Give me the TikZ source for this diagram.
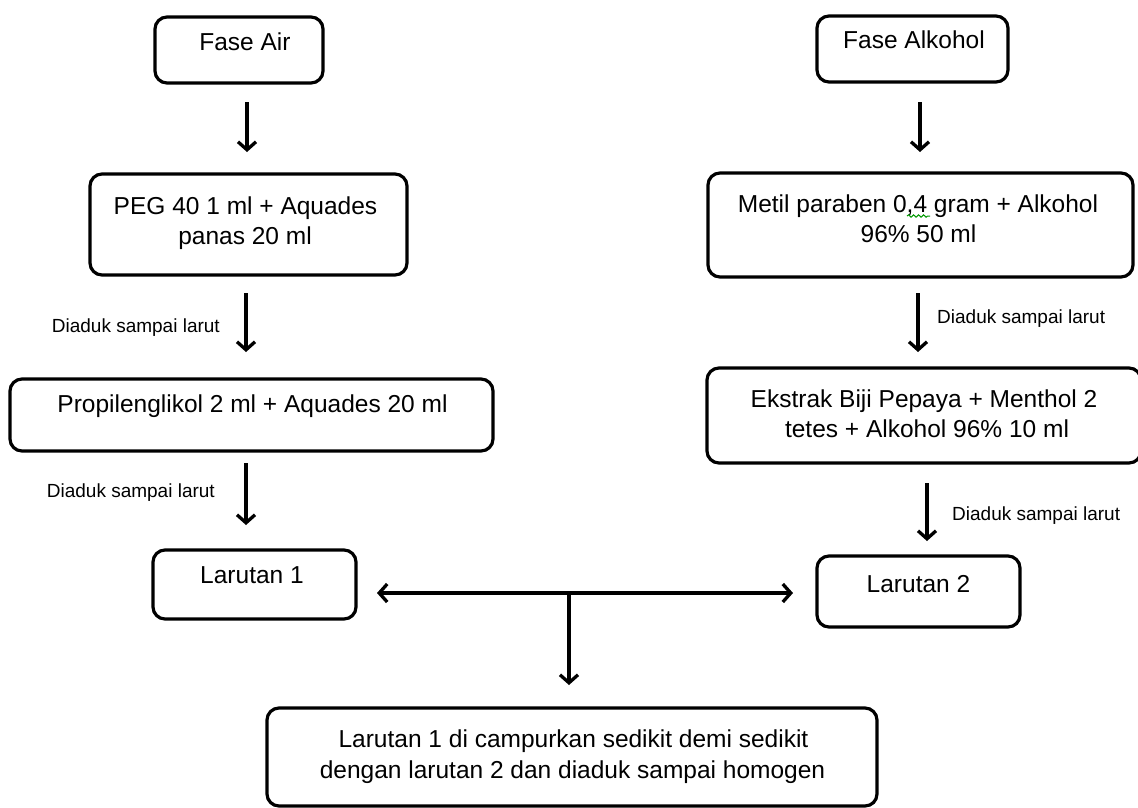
\documentclass[tikz,border=0pt]{standalone}
\usepackage{fontspec}
\setmainfont{Liberation Sans}
\usetikzlibrary{arrows.meta,decorations.pathmorphing}
\begin{document}
\begin{tikzpicture}[x=1pt,y=-1pt,
  box/.style={draw=black, line width=3.2pt, rounded corners=12pt, fill=white, inner sep=0pt},
  txt/.style={font=\fontsize{24.5}{30}\selectfont, inner sep=0pt, anchor=base},
  lbl/.style={font=\fontsize{19}{22}\selectfont, inner sep=0pt},
  tipstyle/.style={},
  arr/.style={line width=3.3pt, -{Straight Barb[length=8pt,width=18pt,line width=3.3pt]}},
  dblarr/.style={line width=3.3pt, {Straight Barb[length=8pt,width=18pt,line width=3.3pt]}-{Straight Barb[length=8pt,width=18pt,line width=3.3pt]}},
]
\useasboundingbox (0,0) rectangle (1138,807);

% boxes
\node[box, minimum width=168pt, minimum height=66pt] (fa) at (239,50) {};
\node[box, minimum width=191pt, minimum height=66pt] (fal) at (912.5,49) {};
\node[box, minimum width=317pt, minimum height=101pt] (peg) at (248.5,224.5) {};
\node[box, minimum width=425pt, minimum height=104pt] (metil) at (920.5,225) {};
\node[box, minimum width=483pt, minimum height=72pt] (prop) at (251.5,415) {};
\node[box, minimum width=434pt, minimum height=95pt] (eks) at (924,415.5) {};
\node[box, minimum width=203pt, minimum height=69pt] (lar1) at (254.5,584.5) {};
\node[box, minimum width=203pt, minimum height=71pt] (lar2) at (918.5,591.5) {};
\node[box, minimum width=610pt, minimum height=98pt] (final) at (572,757) {};

% texts
\node[txt] (fa-t) at (245,50) {Fase Air};
\node[txt] (fal-t) at (914,48) {Fase Alkohol};
\node[txt] (peg-t1) at (245.5,214) {PEG 40 1 ml + Aquades};
\node[txt] (peg-t2) at (245,244) {panas 20 ml};
\node[txt] (metil-t1) at (918,212) {Metil paraben 0,4 gram + Alkohol};
\node[txt] (metil-t2) at (918.5,242) {96\% 50 ml};
\node[txt] (prop-t) at (252.5,412) {Propilenglikol 2 ml + Aquades 20 ml};
\node[txt] (eks-t1) at (924,407) {Ekstrak Biji Pepaya + Menthol 2};
\node[txt] (eks-t2) at (927,437) {tetes + Alkohol 96\% 10 ml};
\node[txt] (lar1-t) at (252,583) {Larutan 1};
\node[txt] (lar2-t) at (918.5,592) {Larutan 2};
\node[txt] (final-t1) at (573.5,747) {Larutan 1 di campurkan sedikit demi sedikit};
\node[txt] (final-t2) at (572.5,778) {dengan larutan 2 dan diaduk sampai homogen};

% spell-check squiggle
\draw[green!60!black, line width=1pt, decorate,
      decoration={snake, amplitude=1.2pt, segment length=5pt}] (907,216) -- (930,216);

% labels
\node[lbl, anchor=base east] (l1) at (220,332) {Diaduk sampai larut};
\node[lbl, anchor=base east] (l2) at (215,497) {Diaduk sampai larut};
\node[lbl, anchor=base west] (l3) at (937,323) {Diaduk sampai larut};
\node[lbl, anchor=base west] (l4) at (952,520) {Diaduk sampai larut};

% arrow end points
\coordinate (a1s) at (247,102); \coordinate (a1e) at (247,152);
\coordinate (a2s) at (920,102); \coordinate (a2e) at (920,152);
\coordinate (a3s) at (246,293); \coordinate (a3e) at (246,352);
\coordinate (a4s) at (246,463); \coordinate (a4e) at (246,525);
\coordinate (a5s) at (918,293); \coordinate (a5e) at (918,352);
\coordinate (a6s) at (927,483); \coordinate (a6e) at (927,541);
\coordinate (hl) at (377,593); \coordinate (hr) at (793,593);
\coordinate (tj) at (569,593); \coordinate (td) at (569,685);

\draw[arr] (a1s) -- (a1e);
\draw[arr] (a2s) -- (a2e);
\draw[arr] (a3s) -- (a3e);
\draw[arr] (a4s) -- (a4e);
\draw[arr] (a5s) -- (a5e);
\draw[arr] (a6s) -- (a6e);
\draw[dblarr] (hl) -- (hr);
\draw[arr] (tj) -- (td);
\end{tikzpicture}
\end{document}
